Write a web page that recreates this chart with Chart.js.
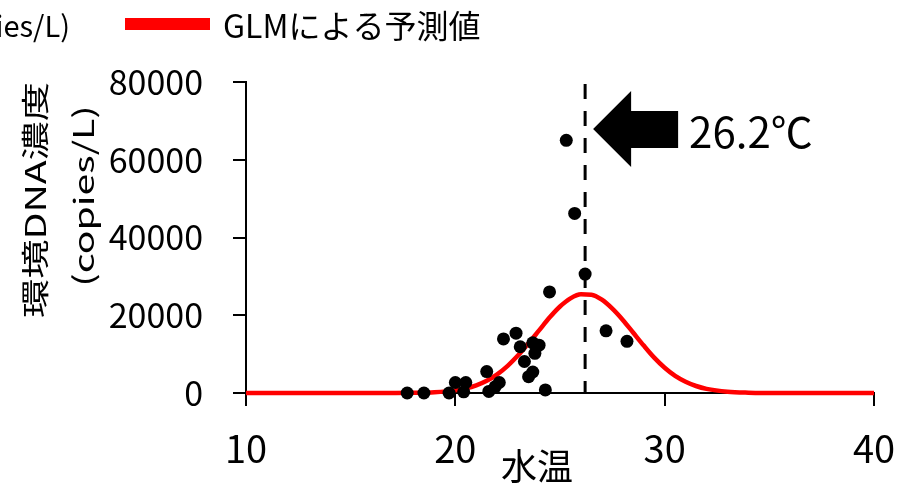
<!DOCTYPE html>
<html lang="ja">
<head>
<meta charset="utf-8">
<title>水温と環境DNA濃度</title>
<script src="https://cdn.jsdelivr.net/npm/chart.js@4.4.1/dist/chart.umd.min.js"></script>
<style>
  html, body { margin: 0; padding: 0; background: #fff; }
  #wrap { position: relative; width: 909px; height: 486px; }
</style>
</head>
<body>
<div id="wrap"><canvas id="ednaChart" width="909" height="486"></canvas></div>
<script>
// observed samples: water temperature vs eDNA concentration
const waterTemp = [17.7, 18.5, 19.7, 20.0, 20.4, 20.5, 21.5, 21.6, 21.9, 22.1, 22.3, 22.9, 23.1,
                   23.3, 23.5, 23.7, 23.7, 23.8, 24.0, 24.3, 24.5, 25.3, 25.7, 26.2, 27.2, 28.2];
const ednaConc = [0, 0, 0, 2700, 300, 2700, 5500, 400, 1600, 2700, 13900, 15400, 11900,
                  8100, 4200, 5400, 12900, 10200, 12300, 800, 26000, 65000, 46200, 30600, 16000, 13300];

// GLM prediction curve
const glmTemp = [10, 12, 14, 16, 17, 18, 19, 20, 20.5, 21, 21.5, 22, 22.5, 23, 23.5, 24, 24.5, 25,
                 25.5, 26, 26.5, 27, 27.5, 28, 28.5, 29, 29.5, 30, 30.5, 31, 31.5, 32, 33, 34, 35, 36, 38, 40];
const glmPred = [0, 0, 0, 0, 5, 40, 190, 670, 1180, 1980, 3160, 4810, 6990, 9690, 12800, 16100, 19400, 22250,
                 24350, 25400, 25300, 24000, 21700, 18800, 15500, 12200, 9100, 6500, 4400, 2900, 1800, 1060, 320, 80, 15, 0, 0, 0];

const xTickLabels = ['10', '20', '30', '40'];
const yTickLabels = ['0', '20000', '40000', '60000', '80000'];
const seriesLabels = ['環境DNA濃度 (copies/L)', 'GLMによる予測値'];
const xTitle = '水温';
const yTitleLines = ['環境DNA濃度', '(copies/L)'];
const optimumTemp = 26.2;
const optimumLabel = '26.2℃';

const FONT = '"Noto Sans CJK JP", "Noto Sans", sans-serif';

// dashed optimum line, arrow, legend and axis titles
const decorations = {
    id: 'decorations',
    beforeDatasetsDraw(chart) {
        const { ctx, chartArea, scales } = chart;
        const x = scales.x.getPixelForValue(optimumTemp);
        ctx.save();
        ctx.strokeStyle = '#000';
        ctx.lineWidth = 3;
        ctx.setLineDash([15, 12]);
        ctx.beginPath();
        ctx.moveTo(x, chartArea.top + 2);
        ctx.lineTo(x, chartArea.bottom);
        ctx.stroke();
        ctx.restore();
    },
    afterDraw(chart) {
        const { ctx, chartArea, scales } = chart;
        const ds = chart.data.datasets;
        ctx.save();
        ctx.fillStyle = '#000';

        // arrow pointing at the optimum line
        const tipX = scales.x.getPixelForValue(optimumTemp) + 8;
        const tipY = chartArea.top + 47;
        ctx.beginPath();
        ctx.moveTo(tipX, tipY);
        ctx.lineTo(tipX + 38, tipY - 38);
        ctx.lineTo(tipX + 38, tipY - 18);
        ctx.lineTo(tipX + 85, tipY - 18);
        ctx.lineTo(tipX + 85, tipY + 19);
        ctx.lineTo(tipX + 38, tipY + 19);
        ctx.lineTo(tipX + 38, tipY + 38);
        ctx.closePath();
        ctx.fill();

        ctx.font = '42px ' + FONT;
        ctx.textAlign = 'left';
        ctx.textBaseline = 'alphabetic';
        ctx.fillText(optimumLabel, tipX + 96, tipY + 19);

        // legend (left part is cut off by the frame)
        ctx.font = '29px ' + FONT;
        ctx.textBaseline = 'middle';
        ctx.textAlign = 'right';
        ctx.fillText(ds[0].label, 70, 26);
        const w0 = ctx.measureText(ds[0].label).width;
        ctx.beginPath();
        ctx.arc(70 - w0 - 20, 24, 6, 0, Math.PI * 2);
        ctx.fill();

        ctx.fillStyle = ds[1].borderColor;
        ctx.fillRect(125, 18, 85, 12);
        ctx.fillStyle = '#000';
        ctx.font = '32px ' + FONT;
        ctx.textAlign = 'left';
        ctx.fillText(ds[1].label, 223, 26);

        // axis titles
        ctx.textAlign = 'center';
        ctx.font = '36px ' + FONT;
        ctx.fillText(xTitle, 537, 466);

        ctx.font = '28px ' + FONT;
        [[35, 200], [83, 196]].forEach(([cx, cy], i) => {
            ctx.save();
            ctx.translate(cx, cy);
            ctx.rotate(-Math.PI / 2);
            ctx.scale(1.4, 1);
            ctx.fillText(yTitleLines[i], 0, 0);
            ctx.restore();
        });
        ctx.restore();
    }
};

const axisGrid = {
    drawOnChartArea: false,
    drawTicks: true,
    tickLength: 13,
    color: '#000',
    lineWidth: 2
};

const ctx = document.getElementById('ednaChart').getContext('2d');
new Chart(ctx, {
    type: 'scatter',
    data: {
        datasets: [{
            label: seriesLabels[0],
            data: waterTemp.map((t, i) => ({ x: t, y: ednaConc[i] })),
            backgroundColor: '#000',
            borderWidth: 0,
            pointRadius: 6.5,
            pointHoverRadius: 6.5,
            clip: false
        }, {
            type: 'line',
            label: seriesLabels[1],
            data: glmTemp.map((t, i) => ({ x: t, y: glmPred[i] })),
            borderColor: '#ff0000',
            borderWidth: 4.5,
            pointRadius: 0,
            fill: false,
            cubicInterpolationMode: 'monotone',
            clip: false
        }]
    },
    options: {
        responsive: false,
        animation: false,
        devicePixelRatio: 1,
        layout: {
            padding: { top: 82, right: 35, left: 0, bottom: 0 }
        },
        plugins: {
            legend: { display: false },
            tooltip: { enabled: false }
        },
        scales: {
            x: {
                type: 'linear',
                min: 10,
                max: 40,
                afterFit: (scale) => {
                    scale.height = 93;
                    scale.paddingLeft = 0;
                    scale.paddingRight = 0;
                },
                border: { color: '#000', width: 2 },
                grid: axisGrid,
                ticks: {
                    stepSize: 10,
                    color: '#000',
                    padding: 20,
                    font: { family: FONT, size: 38 },
                    callback: (value, index) => xTickLabels[index]
                }
            },
            y: {
                min: 0,
                max: 80000,
                afterFit: (scale) => {
                    scale.width = 246;
                    scale.paddingTop = 0;
                    scale.paddingBottom = 0;
                },
                border: { color: '#000', width: 2 },
                grid: axisGrid,
                ticks: {
                    stepSize: 20000,
                    color: '#000',
                    padding: 30,
                    font: { family: FONT, size: 34 },
                    callback: (value, index) => yTickLabels[index]
                }
            }
        }
    },
    plugins: [decorations]
});
</script>
</body>
</html>
